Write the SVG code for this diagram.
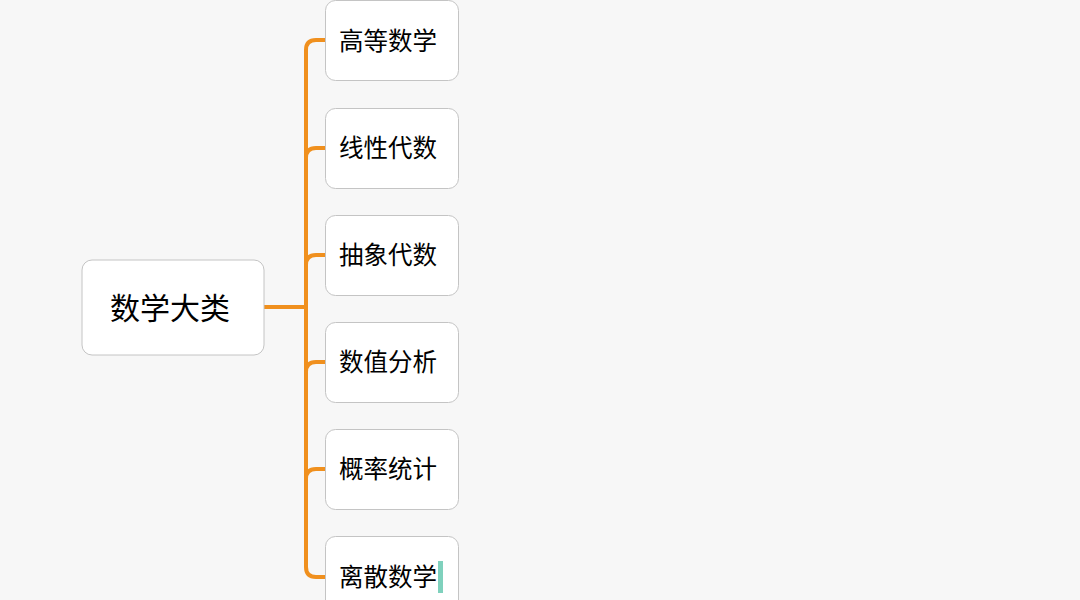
<svg xmlns="http://www.w3.org/2000/svg" width="1080" height="600" viewBox="0 0 1080 600">
<style>
.node rect{fill:#ffffff;stroke:#c4c4c4;stroke-width:1}
.node text{font-family:"Noto Sans CJK SC","Liberation Sans",sans-serif;fill:#000000;dominant-baseline:central}
.child text{font-size:24.5px}
.root text{font-size:30px;text-anchor:middle}
.conn path{fill:none;stroke:#f0901e;stroke-width:4;stroke-linecap:round}
</style>
<rect width="1080" height="600" fill="#f7f7f7"/>
<g id="connectors" class="conn">
<path d="M264 307 H306"/>
<path d="M325 40 H316 Q306 40 306 50 V567 Q306 577 316 577 H325"/>
<path d="M325 148 H316 Q306 148 306 158"/>
<path d="M325 255 H316 Q306 255 306 265"/>
<path d="M325 362 H316 Q306 362 306 372"/>
<path d="M325 469 H316 Q306 469 306 479"/>
</g>
<g id="root" class="node root"><rect x="82" y="260" width="182" height="95" rx="10"/><text x="170" y="306">数学大类</text></g>
<g id="n1" class="node child"><rect x="325.5" y="0.5" width="133" height="80" rx="10"/><text x="339" y="39">高等数学</text></g>
<g id="n2" class="node child"><rect x="325.5" y="108.5" width="133" height="80" rx="10"/><text x="339" y="146">线性代数</text></g>
<g id="n3" class="node child"><rect x="325.5" y="215.5" width="133" height="80" rx="10"/><text x="339" y="253">抽象代数</text></g>
<g id="n4" class="node child"><rect x="325.5" y="322.5" width="133" height="80" rx="10"/><text x="339" y="360">数值分析</text></g>
<g id="n5" class="node child"><rect x="325.5" y="429.5" width="133" height="80" rx="10"/><text x="339" y="467">概率统计</text></g>
<g id="n6" class="node child"><rect x="325.5" y="536.5" width="133" height="80" rx="10"/><text x="339" y="575">离散数学</text></g>
<rect x="438" y="561" width="5" height="32" fill="#7fd1bd"/>
</svg>
